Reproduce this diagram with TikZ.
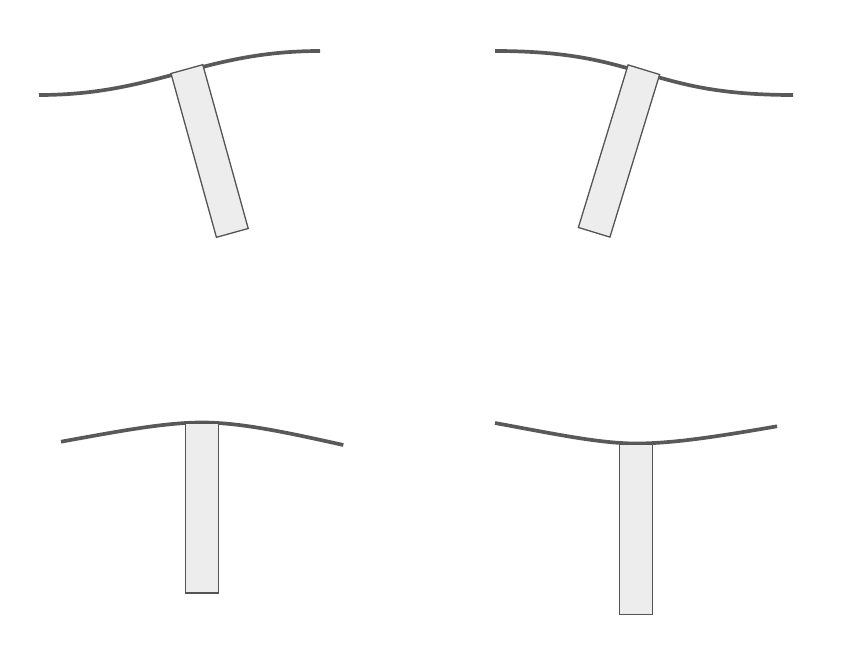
\documentclass[tikz,border=0pt]{standalone}
\begin{document}
\begin{tikzpicture}[x=1pt,y=-1pt,
  wire/.style={draw=black!65, line width=3.7pt},
  blade/.style={draw=black!67, fill=black!7, line width=1.3pt, rectangle, inner sep=0pt, minimum width=33pt, minimum height=170pt}]
\useasboundingbox (0,0) rectangle (856,666);
% panel 1
\coordinate (a1) at (39,95);
\coordinate (b1) at (320,51);
\draw[wire] (a1) .. controls (156,95) and (203,51) .. (b1);
\node[blade, rotate=15.5] (r1) at (209.6,151) {};
% panel 2
\coordinate (a2) at (495,51);
\coordinate (b2) at (793,95);
\draw[wire] (a2) .. controls (645,51) and (643,95) .. (b2);
\node[blade, rotate=-17] (r2) at (619,151) {};
% panel 3
\coordinate (a3) at (61,441.7);
\coordinate (m3) at (202,422.5);
\coordinate (b3) at (343.3,445);
\draw[wire] (a3) .. controls (120,431) and (165,422.5) .. (m3) .. controls (240,422.5) and (285,432) .. (b3);
\node[blade] (r3) at (202,508) {};
% panel 4
\coordinate (a4) at (495,423);
\coordinate (m4) at (636,443.5);
\coordinate (b4) at (777,426.3);
\draw[wire] (a4) .. controls (555,434) and (600,443.5) .. (m4) .. controls (672,443.5) and (715,437) .. (b4);
\node[blade] (r4) at (636.3,529.3) {};
\end{tikzpicture}
\end{document}
